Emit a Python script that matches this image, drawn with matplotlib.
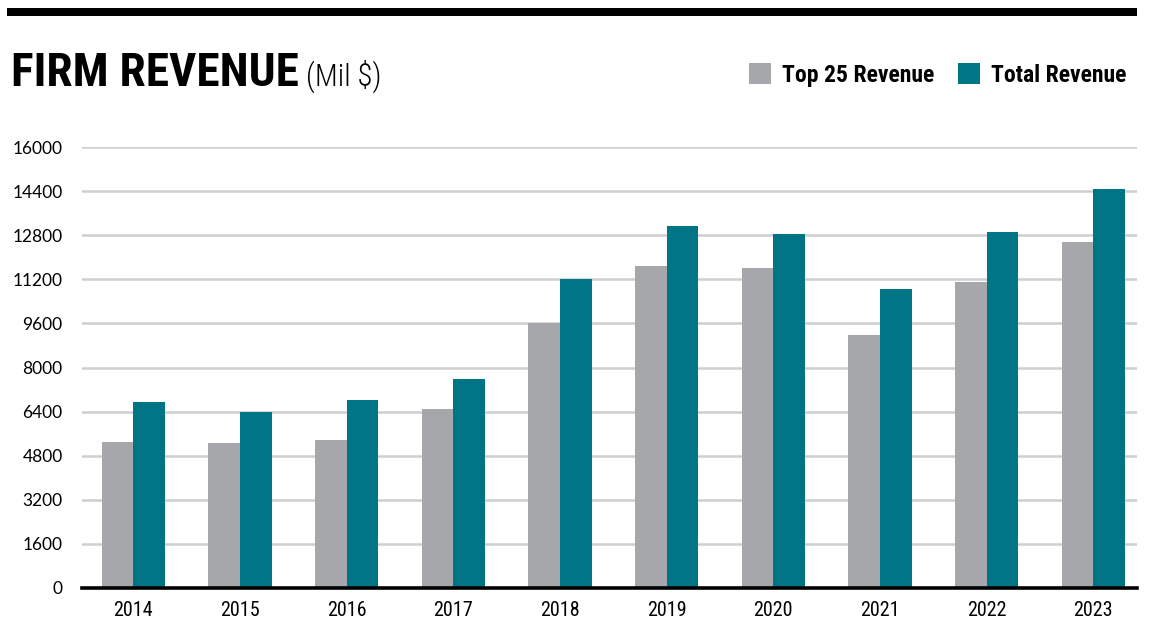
import matplotlib
matplotlib.use("Agg")
import matplotlib.pyplot as plt
from matplotlib.patches import Rectangle
import numpy as np

# ── Data ─────────────────────────────────────────────────────────────────────
years = ["2014", "2015", "2016", "2017", "2018",
         "2019", "2020", "2021", "2022", "2023"]
top25_revenue = [5300, 5270, 5380, 6500, 9620,
                 11690, 11620, 9165, 11110, 12540]
total_revenue = [6750, 6400, 6830, 7600, 11220,
                 13150, 12860, 10860, 12930, 14490]
yticks = [0, 1600, 3200, 4800, 6400, 8000, 9600, 11200, 12800, 14400, 16000]

GRAY = "#a6a7aa"
TEAL = "#007585"
NARROW = ["Roboto Condensed", "DejaVu Sans"]

# ── Plot ─────────────────────────────────────────────────────────────────────
fig = plt.figure(figsize=(11.49, 6.4), dpi=100)
ax = fig.add_axes([82 / 1149, 1 - 588 / 640, (1137 - 82) / 1149, (588 - 147) / 640])

x = np.arange(len(years))
width = 0.297
b1 = ax.bar(x - width / 2, top25_revenue, width, color=GRAY, label="Top 25 Revenue", zorder=3)
b2 = ax.bar(x + width / 2, total_revenue, width, color=TEAL, label="Total Revenue", zorder=3)

ax.set_xlim(-0.48, 9.41)
ax.set_ylim(0, 16000)
ax.set_yticks(yticks)
ax.set_yticklabels([str(v) for v in yticks], fontsize=12.5, family="Lato")
ax.set_xticks(x)
ax.set_xticklabels(years, fontsize=14.5, family=NARROW)
ax.tick_params(axis="both", length=0)
ax.tick_params(axis="y", pad=14)
ax.tick_params(axis="x", pad=9)

ax.yaxis.grid(True, color="#cfcfcf", linewidth=1.8, zorder=0)
ax.set_axisbelow(True)
for side in ("top", "right", "left"):
    ax.spines[side].set_visible(False)
ax.spines["bottom"].set_linewidth(2.6)
ax.spines["bottom"].set_color("black")
ax.spines["bottom"].set_zorder(4)

# ── Header ───────────────────────────────────────────────────────────────────
fig.add_artist(Rectangle((7 / 1149, 1 - 16 / 640), (1137 - 7) / 1149, 8 / 640,
                         transform=fig.transFigure, color="black", lw=0))
title = fig.text(11 / 1149, 1 - 86 / 640, "FIRM REVENUE", fontsize=34,
                 fontweight="bold", family=NARROW, va="baseline", ha="left")
fig.canvas.draw()
bb = title.get_window_extent()
fig.text((bb.x1 + 7) / 1149, 1 - 86 / 640, "(Mil $)", fontsize=22,
         fontweight="light", family=NARROW, va="baseline", ha="left")

fig.legend(handles=[b1, b2], loc="center right",
           bbox_to_anchor=(1126 / 1149, 1 - 75 / 640), ncol=2, frameon=False,
           prop={"family": NARROW, "weight": "bold", "size": 17},
           handlelength=0.95, handleheight=0.95, handletextpad=0.45,
           columnspacing=1.0, borderpad=0, borderaxespad=0)

fig.savefig("out.png", dpi=100)
